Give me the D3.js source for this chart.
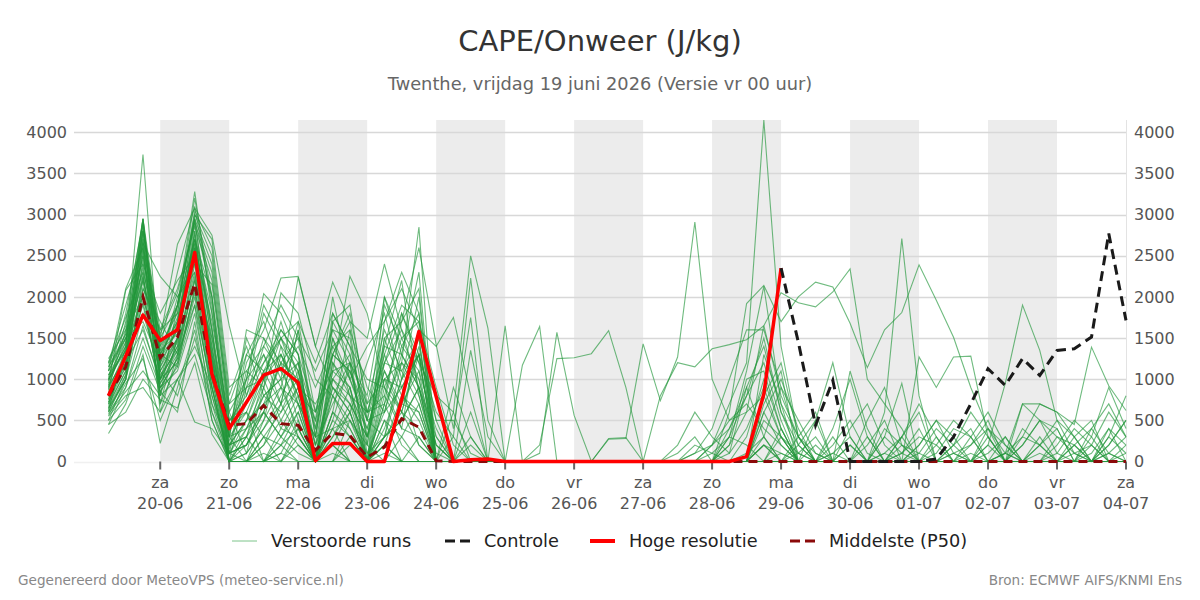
<!DOCTYPE html>
<html>
<head>
<meta charset="utf-8">
<script src="https://cdn.jsdelivr.net/npm/d3@7"></script>
<style>
  body { margin: 0; background: #fff; }
  svg text { font-family: "DejaVu Sans", sans-serif; }
</style>
</head>
<body>
<div id="chart"></div>
<script>
// 6-hourly steps, first value 19-06 06 UTC
var startTime = Date.UTC(2026, 5, 19, 6)
var stepHours = 6

var dayNames = ["zo", "ma", "di", "wo", "do", "vr", "za"]

// ensemble members (verstoorde runs), 60 values each
var runs = [
  [620,1400,3730,1100,1500,2600,1200,200, 500,1100,1500,900,0,1200,800,400,1100,600,1400,300, 0,200,0,0,0,0,0,0,0,0,0,0,0,0,100,200,400,800, 1500,600,200,0,100,300,0,0,200,100,0,0,0,0,100,300,200,0,0,100,400,200],
  [900,1700,2950,800,1900,3280,1800,300, 0,200,700,1600,300,400,0,0,300,1200,2850,0, 0,0,0,0,0,0,0,0,0,0,0,0,0,0,0,0,0,300, 1000,400,0,0,0,0,200,500,0,0,0,100,0,0,0,0,0,0,0,0,0,0],
  [1100,2100,2600,1500,2640,3080,2750,1650, 800,1500,1000,2240,1400,2180,1700,1500,2400,1600,1200,800, 600,2500,1620,0,0,0,0,0,0,0,0,0,0,0,0,0,0,0, 0,0,0,0,0,0,0,0,100,300,200,0,0,0,0,0,0,0,200,400,100,0],
  [750,1200,2800,1300,1700,2950,1400,100, 1000,2040,1800,1300,0,1100,2250,1800,900,400,1600,1400, 1750,800,0,0,0,0,0,0,0,0,0,0,0,0,0,0,0,100, 300,0,0,0,400,1000,300,0,0,0,0,0,0,100,300,0,0,0,0,0,0,0],
  [500,1000,2200,700,1200,2100,900,0, 300,600,1200,1500,300,1800,1400,500,600,1300,2300,0, 300,2230,500,0,0,0,0,0,0,0,0,0,0,0,0,0,200,600, 1650,800,300,100,0,0,0,0,0,200,500,100,0,0,0,200,500,300,100,0,0,0],
  [1250,1600,2000,1200,2000,2400,2150,600, 100,900,2050,1800,1000,800,500,200,1400,2200,800,0, 0,0,0,0,0,0,0,0,0,0,0,0,0,0,0,0,0,0, 200,100,0,0,0,0,0,0,0,0,0,0,300,600,200,0,0,0,0,0,0,0],
  [600,900,1500,900,1100,1800,700,0, 0,0,300,600,0,0,200,0,100,0,300,0, 0,0,0,0,0,0,0,0,0,0,0,0,0,0,0,0,0,0, 0,0,0,0,0,0,0,0,0,0,0,0,0,0,0,0,0,0,100,200,0,0],
  [800,1300,2750,1000,1400,2800,1100,300, 1200,1600,2230,2250,1400,900,600,1200,1800,1000,1300,500, 500,100,0,0,0,0,0,0,0,0,0,0,0,0,0,0,0,0, 0,0,0,0,200,500,100,0,0,0,0,0,0,0,0,0,0,0,0,300,900,400],
  [340,700,1300,220,900,1600,500,0, 0,0,0,200,0,0,0,0,0,0,0,0, 0,0,0,0,0,0,0,0,0,0,0,0,0,0,0,0,0,0, 0,300,100,0,0,200,0,0,0,100,400,200,0,0,100,0,300,0,0,0,200,500],
  [1000,1500,2500,1400,1800,3050,2600,800, 1400,800,600,1100,0,1700,1900,600,800,1700,2600,1420, 400,1750,0,1650,0,0,0,0,0,0,0,0,0,0,0,0,0,0, 0,0,300,600,0,0,0,0,0,0,0,0,0,0,0,0,200,500,300,0,0,0],
  [700,1100,2100,1700,1300,2200,1500,400, 600,300,0,400,0,500,1200,0,200,800,500,0, 0,0,0,0,1170,1640,0,0,0,0,0,0,0,0,0,0,0,0, 600,1000,400,0,0,0,0,0,300,0,0,0,0,0,0,0,0,0,0,0,0,0],
  [950,2080,2400,1800,2200,2500,1000,0, 200,700,1200,500,0,300,700,0,1500,900,200,0, 0,0,0,0,0,0,0,0,0,0,0,0,0,0,0,200,700,1200, 4150,1400,300,0,0,0,0,0,0,0,0,0,0,0,0,0,0,0,0,0,100,300],
  [550,800,900,600,1000,480,400,100, 0,300,200,0,0,600,300,0,0,0,0,0, 0,0,0,0,0,0,0,0,0,0,0,0,0,0,0,0,0,0, 600,200,0,500,1200,300,0,0,0,0,0,200,600,300,0,0,0,100,400,200,0,0],
  [1050,1450,2880,1250,1600,2700,2000,500, 800,1300,700,1000,500,2000,1000,500,1300,1900,1700,0, 0,0,0,0,0,100,1570,560,0,0,0,0,0,0,0,0,0,0, 0,0,0,0,0,0,500,900,200,0,0,0,0,0,0,0,0,0,0,0,0,0],
  [650,1000,1800,1100,800,1500,700,200, 300,0,100,500,0,800,400,0,700,200,0,0, 0,0,0,0,0,0,0,0,0,0,0,0,0,0,0,0,0,0, 0,0,0,0,0,0,0,0,0,0,0,0,200,400,100,0,0,0,0,0,200,500],
  [900,1300,2300,800,1500,2900,1600,0, 0,500,900,700,0,600,1600,900,600,1400,1800,0, 0,1350,300,0,0,0,0,0,0,0,0,0,0,0,0,0,0,0, 200,0,0,0,0,0,0,0,0,0,0,0,0,0,0,0,0,0,0,0,0,0],
  [1200,1900,2650,2250,2000,2300,1300,300, 1500,1000,1300,800,600,1000,800,0,2000,1300,900,0, 0,0,0,0,0,0,0,0,0,0,0,0,0,0,0,0,300,1100, 2130,700,0,0,0,0,0,0,0,0,100,400,300,0,0,0,0,0,0,0,0,0],
  [720,1250,2850,900,1250,2050,800,100, 400,800,1000,300,0,1300,1100,500,300,1000,1500,0, 0,0,0,0,0,0,0,0,0,270,280,1430,740,1270,2910,1000,500,700, 400,200,0,0,0,0,0,0,0,0,0,0,0,0,0,0,0,0,0,0,0,0],
  [450,600,1000,750,650,1200,330,0, 0,0,100,0,0,0,300,0,0,0,0,0, 0,0,0,0,0,0,0,0,0,0,0,0,0,0,0,0,0,0, 0,0,100,300,0,0,0,400,200,0,0,0,0,0,0,700,500,100,0,0,0,0],
  [1150,1550,2950,1500,1900,3000,2700,900, 1100,1400,1900,1500,1100,1600,1200,800,2000,1500,1000,200, 0,0,0,0,0,200,1250,1260,1310,1590,900,0,0,0,0,0,0,0, 300,900,500,100,0,0,0,0,0,0,0,200,400,0,0,0,0,0,0,200,600,300],
  [850,1200,1600,1000,1700,2650,1250,200, 300,1000,500,200,0,900,600,0,1000,600,200,0, 0,0,0,0,0,0,0,0,0,280,290,0,0,0,0,0,0,0, 0,0,0,0,100,0,0,100,300,700,300,0,0,0,0,0,0,0,300,500,0,100],
  [600,1050,2700,600,1300,2400,1100,0, 0,0,400,800,0,400,900,200,0,700,1100,0, 0,0,0,0,0,0,0,0,0,0,0,0,800,1200,1150,1370,1420,1480, 1650,2050,1930,1880,2060,2340,1000,700,400,0,0,0,0,0,0,0,0,0,0,0,0,0],
  [1000,1350,2000,1300,1150,1900,600,100, 200,600,300,100,0,200,0,0,500,0,0,0, 0,0,0,0,0,0,0,0,0,0,0,0,0,0,0,0,0,0, 800,300,0,0,0,1100,400,0,0,0,0,0,0,0,0,0,200,400,0,0,0,0],
  [780,1150,2550,1100,1450,2600,1700,500, 700,1200,1500,1100,400,1300,1800,700,1600,1100,700,0, 0,0,0,0,0,0,0,0,0,0,0,0,0,0,0,0,100,400, 900,300,0,0,0,0,0,0,0,0,0,0,0,0,100,700,700,600,450,1390,920,620],
  [560,950,1250,500,1000,1400,900,0, 0,100,0,300,0,0,0,0,0,300,0,0, 0,0,0,0,0,0,0,0,0,0,0,0,0,0,0,0,0,0, 0,0,0,200,0,0,0,0,0,0,0,0,0,300,0,0,0,0,0,0,400,0],
  [1020,1800,2900,1400,2300,3100,1900,400, 900,1800,1400,700,300,1500,800,600,1200,1800,1300,0, 900,300,0,0,0,0,0,0,0,0,0,0,0,0,0,0,0,0, 1300,700,300,0,0,0,0,0,100,400,0,0,0,0,0,400,200,0,0,0,0,0],
  [680,1100,2450,1200,1600,2750,1300,0, 100,400,800,1200,0,1000,1300,0,400,1000,2000,0, 0,0,0,0,0,0,0,0,0,0,0,0,0,100,300,0,600,1920, 2140,1700,2000,2180,2120,1680,1140,1600,1810,2390,1960,1510,900,400,0,0,0,0,0,0,0,0],
  [920,1250,1900,950,1350,2200,1000,300, 600,0,200,600,0,0,500,0,300,500,900,0, 0,0,0,0,0,0,0,0,0,0,0,0,0,0,0,0,0,0, 0,0,0,0,0,0,0,0,0,0,200,500,300,0,0,0,0,0,0,0,0,0],
  [1180,1650,2800,1600,2100,2850,2200,700, 1300,1700,1100,1400,900,1400,1000,1400,1700,2300,1800,0, 600,0,0,0,0,0,0,0,0,0,0,0,0,200,600,300,100,900, 300,0,0,0,0,0,0,0,0,1270,900,1270,1280,300,0,0,0,0,0,0,0,0],
  [500,750,1400,850,600,1700,500,0, 0,0,0,0,0,100,0,0,200,0,0,0, 0,0,0,0,0,0,0,0,0,0,0,0,0,0,0,0,0,0, 0,100,0,0,0,0,300,0,0,0,0,0,0,0,0,0,0,0,200,0,0,0],
  [870,1350,2600,700,1500,2500,1350,200, 500,1000,1700,1000,200,700,1100,300,1300,800,600,0, 0,0,0,0,0,0,0,0,0,0,0,0,0,0,0,0,200,1000, 1100,400,0,0,0,0,0,0,0,0,0,0,0,200,950,1900,1350,500,100,0,0,0],
  [640,1000,2250,1000,1200,2000,800,0, 0,300,600,900,0,500,300,0,800,400,300,0, 0,0,0,0,0,0,0,0,0,0,0,0,0,0,0,0,0,0, 0,0,0,0,0,0,0,0,0,0,0,0,0,0,0,300,700,600,300,0,0,0],
  [1100,1500,1700,1200,1900,2950,2400,600, 1000,1300,900,1700,1200,1800,1400,1000,900,1500,1700,900, 200,0,0,0,0,0,0,0,0,0,0,0,0,0,0,0,0,0, 0,0,0,0,0,0,0,300,950,0,0,0,0,0,0,0,0,0,0,0,0,0],
  [760,1200,2700,1300,1700,2700,1500,100, 200,500,1300,800,0,1200,900,0,700,1200,1000,0, 0,0,0,0,0,0,0,0,0,0,0,0,0,0,100,400,1000,1600, 1600,900,200,0,0,0,0,600,2710,800,0,0,0,0,0,0,0,0,0,0,0,0],
  [980,1400,2950,1000,1500,2600,1100,300, 400,900,400,300,0,200,600,0,900,600,1300,0, 0,0,0,0,0,0,0,0,0,0,0,0,0,0,0,0,0,0, 200,0,0,0,0,0,0,0,0,0,0,0,100,0,0,0,0,0,0,0,0,0],
  [830,1300,2100,1600,1800,3200,2000,0, 900,1200,1600,1300,600,1600,1500,300,1500,1700,2100,0, 0,0,0,0,0,0,0,0,0,0,0,0,0,0,0,0,0,0, 700,1100,0,0,0,0,0,0,0,0,0,0,0,0,0,0,0,0,0,0,0,0],
  [700,1300,2400,1000,1400,2300,900,0, 300,800,1000,1200,200,900,700,300,1000,1200,800,100, 0,300,0,0,0,0,0,0,0,0,0,0,0,0,0,0,0,0, 0,0,200,500,0,0,0,300,100,0,0,0,0,200,0,0,0,300,200,0,100,0],
  [1050,1350,2250,1150,1650,2450,1400,250, 700,1400,1100,700,300,1500,1000,400,1200,1600,900,300, 0,0,0,0,0,0,0,0,0,0,0,0,0,0,0,100,300,200, 0,400,0,0,0,200,0,0,0,0,300,0,0,0,0,0,100,0,0,0,300,100],
  [580,850,1100,800,1000,1300,600,0, 100,400,700,300,0,400,500,100,300,600,400,0, 0,0,0,0,0,0,0,0,0,0,0,0,0,0,0,0,0,0, 0,0,0,0,0,0,0,0,0,0,0,0,0,400,200,0,0,0,0,0,0,0],
  [880,1600,2650,1350,1550,2800,1600,150, 1100,900,1500,1700,600,1300,1700,500,1900,1400,1100,400, 0,600,0,0,0,0,0,0,0,0,0,0,0,0,0,0,0,0, 0,0,0,0,0,400,700,200,0,0,0,0,0,0,0,0,0,0,0,0,0,0],
  [1200,1750,2300,1550,2050,2900,2300,500, 600,1100,1300,900,700,1100,1200,700,1000,900,1300,600, 300,0,0,0,0,0,0,0,0,0,0,0,0,0,200,100,0,0, 0,0,0,0,0,0,0,0,300,600,0,0,0,0,0,0,0,0,0,0,0,0],
  [660,1050,1950,900,1250,2250,1200,0, 0,200,500,900,0,300,600,0,500,300,700,0, 0,0,0,0,0,0,0,0,0,0,0,0,0,0,0,0,0,0, 0,0,0,0,0,0,0,0,0,0,0,0,0,0,0,0,0,200,500,300,0,200],
  [930,1450,2350,1250,1750,2650,1600,350, 1300,1100,700,1600,400,1700,1300,600,700,1800,1200,200, 0,0,0,0,0,0,0,0,0,0,0,0,0,0,0,0,0,0, 500,300,0,0,0,0,0,0,0,200,500,300,0,0,0,0,0,0,0,0,0,0],
  [810,1250,2950,1150,1500,2550,1250,100, 500,700,900,400,0,1000,700,300,1100,700,600,0, 0,0,0,0,0,0,0,0,0,0,0,0,0,0,0,0,300,800, 1200,500,0,0,0,0,0,0,0,0,0,0,0,0,0,0,0,0,0,0,300,800],
  [450,900,1650,950,1300,1900,900,0, 0,0,200,400,0,200,0,0,200,0,0,0, 0,0,0,0,0,0,0,0,0,0,0,0,0,0,0,0,0,0, 0,0,0,0,0,0,0,100,0,0,0,0,0,0,300,0,0,0,0,0,0,0],
  [1100,1550,2500,1300,1900,2950,2000,300, 1600,1500,1200,1000,200,1400,1600,200,1700,2100,1600,500, 0,0,0,0,0,0,0,0,0,0,0,0,0,0,0,0,0,0, 0,0,0,0,0,0,0,0,0,0,0,100,200,500,0,0,0,0,0,0,0,0],
  [720,1150,2600,1050,1350,2450,1100,100, 200,600,1400,1100,100,800,1200,100,600,900,1300,0, 0,0,0,0,0,0,0,0,0,0,0,0,0,0,0,200,500,600, 800,1200,300,0,0,0,0,0,0,0,0,0,0,0,0,0,0,0,0,0,0,0],
  [990,1400,2800,1450,1600,3000,2500,700, 900,1000,1600,1300,0,1100,900,0,1200,1100,1500,0, 0,0,0,0,0,0,0,0,0,0,0,0,0,0,0,0,0,0, 0,0,0,0,0,0,0,0,0,0,0,0,0,0,0,200,500,400,0,0,0,0],
  [610,1000,2050,850,1150,2100,1000,0, 400,600,300,700,0,600,400,0,300,500,900,0, 0,0,0,0,0,0,0,0,0,0,0,0,0,0,0,0,0,0, 0,0,0,0,300,0,0,0,0,0,0,0,0,0,0,0,0,0,0,400,700,300],
  [1150,1500,2200,1350,1900,2700,1800,400, 1000,1900,1500,1200,500,1300,1100,600,1400,1300,900,200, 0,0,0,0,0,0,0,0,0,0,0,0,0,0,0,0,400,900, 1400,600,100,0,0,0,0,0,0,0,0,0,0,0,0,0,0,0,0,0,0,0]
]

// hoge resolutie run, ends 29-06 00 UTC
var hires = [800,1280,1780,1470,1600,2540,1060,400,720,1050,
  1130,960,10,220,220,0,0,750,1580,790,
  0,20,30,0,0,0,0,0,0,0,
  0,0,0,0,0,0,0,60,820,2350]

// controle run (only visible from 29-06)
var control = [null,null,null,null,null,null,null,null,null,null,
  null,null,null,null,null,null,null,null,null,null,
  null,null,null,null,null,null,null,null,null,null,
  null,null,null,null,null,null,null,null,null,2350,
  1450,440,985,0,0,0,0,0,30,300,
  700,1128,925,1250,1046,1350,1370,1512,2770,1715]

// middelste (P50)
var median = [800,1150,2000,1260,1510,2160,1070,440,460,680,
  460,440,135,345,316,52,175,520,417,10,
  0,0,0,0,0,0,0,0,0,0,
  0,0,0,0,0,0,0,0,0,0,
  0,0,0,0,0,0,0,0,0,0,
  0,0,0,0,0,0,0,0,0,0]

var width = 1200,
    height = 600,
    plotLeft = 74,
    plotRight = 1126,
    plotTop = 120,
    plotBottom = 461.5

var svg = d3.select("#chart")
  .append("svg")
    .attr("width", width)
    .attr("height", height)

var x = d3.scaleUtc()
  .domain([new Date(Date.UTC(2026, 5, 18, 18)), new Date(Date.UTC(2026, 6, 4, 0))])
  .range([plotLeft, plotRight])

var y = d3.scaleLinear()
  .domain([0, 4150])
  .range([plotBottom, plotTop])

function timeAt(i) { return new Date(startTime + i * stepHours * 3600 * 1000) }

// shaded alternate days
var days = d3.utcDay.range(new Date(Date.UTC(2026, 5, 20)), new Date(Date.UTC(2026, 6, 4)))
svg.append("g")
  .selectAll("rect")
  .data(days.filter(function(d, i) { return i % 2 == 0 }))
  .enter()
  .append("rect")
    .attr("x", function(d) { return x(d) })
    .attr("width", function(d) { return x(d3.utcDay.offset(d, 1)) - x(d) })
    .attr("y", plotTop)
    .attr("height", plotBottom - plotTop)
    .attr("fill", "#ececec")

// horizontal grid
var yTicks = d3.range(0, 4001, 500)
svg.append("g")
  .selectAll("line")
  .data(yTicks)
  .enter()
  .append("line")
    .attr("x1", plotLeft)
    .attr("x2", plotRight)
    .attr("y1", function(d) { return Math.round(y(d)) + 0.5 })
    .attr("y2", function(d) { return Math.round(y(d)) + 0.5 })
    .attr("stroke", function(d) { return d == 0 ? "#f0f0f0" : "#d8d8d8" })
    .attr("stroke-width", 1.3)

// right axis line
svg.append("line")
  .attr("x1", plotRight + 0.5).attr("x2", plotRight + 0.5)
  .attr("y1", plotTop).attr("y2", plotBottom)
  .attr("stroke", "#e3e3e3")

// y labels both sides
svg.append("g")
  .selectAll("text")
  .data(yTicks)
  .enter()
  .append("text")
    .attr("x", 67)
    .attr("y", function(d) { return y(d) })
    .attr("dy", "0.35em")
    .attr("text-anchor", "end")
    .attr("font-size", 16)
    .attr("fill", "#555")
    .text(function(d) { return d })

svg.append("g")
  .selectAll("text")
  .data(yTicks)
  .enter()
  .append("text")
    .attr("x", 1134)
    .attr("y", function(d) { return y(d) })
    .attr("dy", "0.35em")
    .attr("text-anchor", "start")
    .attr("font-size", 16)
    .attr("fill", "#555")
    .text(function(d) { return d })

// x ticks + two line labels
var tickDays = d3.utcDay.range(new Date(Date.UTC(2026, 5, 20)), new Date(Date.UTC(2026, 6, 4, 1)))
var xg = svg.append("g")
xg.selectAll("line")
  .data(tickDays)
  .enter()
  .append("line")
    .attr("x1", function(d) { return x(d) })
    .attr("x2", function(d) { return x(d) })
    .attr("y1", plotBottom)
    .attr("y2", plotBottom + 8)
    .attr("stroke", "#666")
    .attr("stroke-width", 2)

xg.selectAll("text.day")
  .data(tickDays)
  .enter()
  .append("text")
    .attr("class", "day")
    .attr("x", function(d) { return x(d) })
    .attr("y", 488)
    .attr("text-anchor", "middle")
    .attr("font-size", 16)
    .attr("fill", "#555")
    .text(function(d) { return dayNames[d.getUTCDay()] })

xg.selectAll("text.date")
  .data(tickDays)
  .enter()
  .append("text")
    .attr("class", "date")
    .attr("x", function(d) { return x(d) })
    .attr("y", 509)
    .attr("text-anchor", "middle")
    .attr("font-size", 16)
    .attr("fill", "#555")
    .text(d3.utcFormat("%d-%m"))

var line = d3.line()
  .defined(function(d) { return d != null })
  .x(function(d, i) { return x(timeAt(i)) })
  .y(function(d) { return y(d) })

// members
svg.append("g")
  .selectAll("path")
  .data(runs)
  .enter()
  .append("path")
    .attr("d", line)
    .attr("fill", "none")
    .attr("stroke", "#22963a")
    .attr("stroke-opacity", 0.65)
    .attr("stroke-width", 1.1)

svg.append("path")
  .attr("d", line(median))
  .attr("fill", "none")
  .attr("stroke", "#8b0a0a")
  .attr("stroke-width", 3)
  .attr("stroke-dasharray", "9,6")

svg.append("path")
  .attr("d", line(hires))
  .attr("fill", "none")
  .attr("stroke", "#ff0000")
  .attr("stroke-width", 3.5)
  .attr("stroke-linejoin", "round")

svg.append("path")
  .attr("d", line(control))
  .attr("fill", "none")
  .attr("stroke", "#1a1a1a")
  .attr("stroke-width", 3)
  .attr("stroke-dasharray", "10,6")

// titles
svg.append("text")
  .attr("x", 600).attr("y", 51)
  .attr("text-anchor", "middle")
  .attr("font-size", 29)
  .attr("fill", "#333")
  .text("CAPE/Onweer (J/kg)")

svg.append("text")
  .attr("x", 600).attr("y", 90)
  .attr("text-anchor", "middle")
  .attr("font-size", 17.8)
  .attr("fill", "#666")
  .text("Twenthe, vrijdag 19 juni 2026 (Versie vr 00 uur)")

// legend
var legendItems = [
  { label: "Verstoorde runs", x: 232, color: "#7cc48a", width: 1, dash: null },
  { label: "Controle", x: 445, color: "#1a1a1a", width: 3, dash: "10,5" },
  { label: "Hoge resolutie", x: 590, color: "#ff0000", width: 4, dash: null },
  { label: "Middelste (P50)", x: 790, color: "#8b0a0a", width: 3, dash: "10,5" }
]
var lg = svg.append("g")
  .selectAll("g")
  .data(legendItems)
  .enter()
  .append("g")
lg.append("line")
  .attr("x1", function(d) { return d.x })
  .attr("x2", function(d) { return d.x + 25 })
  .attr("y1", 541).attr("y2", 541)
  .attr("stroke", function(d) { return d.color })
  .attr("stroke-width", function(d) { return d.width })
  .attr("stroke-dasharray", function(d) { return d.dash })
lg.append("text")
  .attr("x", function(d) { return d.x + 39 })
  .attr("y", 547)
  .attr("font-size", 17.7)
  .attr("fill", "#222")
  .text(function(d) { return d.label })

// footer
svg.append("text")
  .attr("x", 18).attr("y", 585)
  .attr("font-size", 13.6)
  .attr("fill", "#888")
  .text("Gegenereerd door MeteoVPS (meteo-service.nl)")

svg.append("text")
  .attr("x", 1182).attr("y", 585)
  .attr("text-anchor", "end")
  .attr("font-size", 13.6)
  .attr("fill", "#888")
  .text("Bron: ECMWF AIFS/KNMI Ens")
</script>
</body>
</html>
